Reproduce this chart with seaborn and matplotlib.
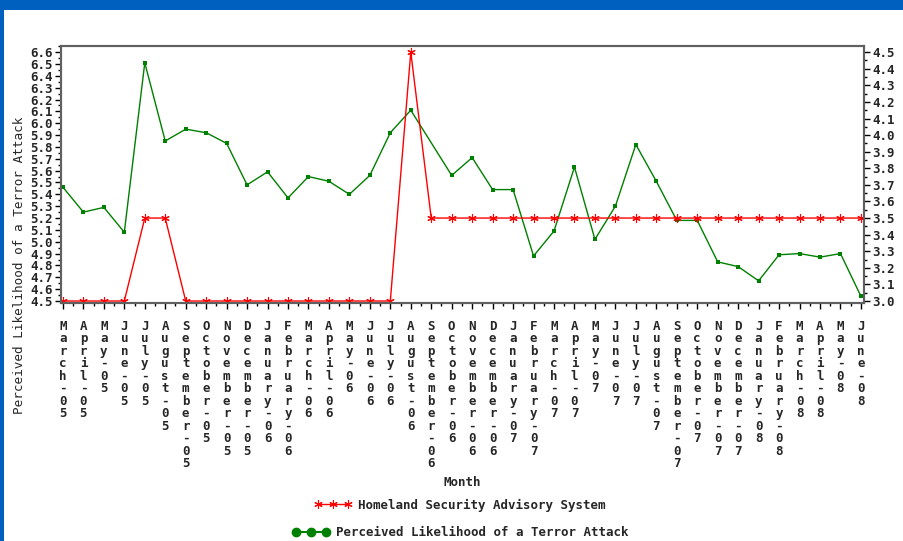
import matplotlib
matplotlib.use("Agg")
import matplotlib.pyplot as plt
import numpy as np
import pandas as pd
import seaborn as sns
from matplotlib.lines import Line2D
from matplotlib.patches import Rectangle
from matplotlib.ticker import MultipleLocator, FormatStrFormatter

months = [
    "March-05", "April-05", "May-05", "June-05", "July-05", "August-05",
    "September-05", "October-05", "November-05", "December-05",
    "January-06", "February-06", "March-06", "April-06", "May-06", "June-06",
    "July-06", "August-06", "September-06", "October-06", "November-06",
    "December-06", "January-07", "February-07", "March-07", "April-07",
    "May-07", "June-07", "July-07", "August-07", "September-07",
    "October-07", "November-07", "December-07", "January-08", "February-08",
    "March-08", "April-08", "May-08", "June-08",
]
likelihood = [5.46, 5.25, 5.29, 5.08, 6.51, 5.85, 5.95, 5.92, 5.83, 5.48,
              5.59, 5.37, 5.55, 5.51, 5.40, 5.56, 5.92, 6.11, np.nan, 5.56,
              5.71, 5.44, 5.44, 4.88, 5.09, 5.63, 5.02, 5.30, 5.82, 5.51,
              5.18, 5.18, 4.83, 4.79, 4.67, 4.89, 4.90, 4.87, 4.90, 4.54]
hsas = [3.0] * 4 + [3.5] * 2 + [3.0] * 11 + [4.5] + [3.5] * 22

GREEN = "#008000"
RED = "#ff0000"
BLUE = "#0060c0"
MONO = "DejaVu Sans Mono"

df = pd.DataFrame({"idx": range(len(months)), "Month": months,
                   "Likelihood": likelihood, "HSAS": hsas})

sns.set_style("ticks")
plt.rcParams["font.family"] = [MONO, "DejaVu Sans"]

fig = plt.figure(figsize=(9.04, 5.41), dpi=100)
fig.patch.set_facecolor("white")
# blue slide frame on top and left edge
fig.patches.append(Rectangle((0, 1 - 10 / 541), 1, 10 / 541, transform=fig.transFigure,
                             facecolor=BLUE, edgecolor="none"))
fig.patches.append(Rectangle((0, 0), 4 / 904, 1, transform=fig.transFigure,
                             facecolor=BLUE, edgecolor="none"))

ax = fig.add_axes([61.5 / 904, 1 - 303 / 541, (864 - 61.5) / 904, (303 - 45.5) / 541])
ax.set_facecolor("white")
sns.lineplot(data=df.dropna(), x="idx", y="Likelihood", ax=ax, color=GREEN,
             marker="s", markersize=3.5, markeredgewidth=0, linewidth=1)
ax2 = ax.twinx()
sns.lineplot(data=df, x="idx", y="HSAS", ax=ax2, color=RED,
             marker=(6, 2, 0), markersize=6, markeredgewidth=0.8,
             markeredgecolor=RED, linewidth=1)

ax.set_xlim(-0.07, 39.15)
ax.set_ylim(4.483, 6.656)
ax2.set_ylim(2.988, 4.540)

ax.yaxis.set_major_locator(MultipleLocator(0.1))
ax.yaxis.set_minor_locator(MultipleLocator(0.05))
ax.yaxis.set_major_formatter(FormatStrFormatter("%.1f"))
ax2.yaxis.set_major_locator(MultipleLocator(0.1))
ax2.yaxis.set_minor_locator(MultipleLocator(0.05))
ax2.yaxis.set_major_formatter(FormatStrFormatter("%.1f"))

ax.set_xticks(range(len(months)))
ax.set_xticks(np.arange(0.5, len(months) - 1, 1), minor=True)
ax.set_xticklabels(["\n".join(m) for m in months], fontsize=9, fontweight="bold",
                   va="top", linespacing=0.95, family=MONO)

for a in (ax, ax2):
    a.tick_params(which="major", length=4, width=1, color="black", pad=2)
    a.tick_params(which="minor", length=2, width=1, color="black")
    for lab in a.get_yticklabels():
        lab.set_fontsize(9)
        lab.set_fontweight("bold")
        lab.set_family(MONO)
    for s in a.spines.values():
        s.set_color("#606060")
        s.set_linewidth(1.5)
ax.tick_params(axis="x", which="major", pad=8)

ax.set_xlabel("")
ax.set_ylabel("")
ax2.set_ylabel("")

fig.text(20 / 904, 1 - 265 / 541, "Perceived Likelihood of a Terror Attack",
         rotation=90, ha="center", va="center", fontsize=9.1, family=MONO)
fig.text(462 / 904, 1 - 482 / 541, "Month", ha="center", va="center",
         fontsize=9, fontweight="bold", family=MONO)

prop = {"family": MONO, "size": 9, "weight": "bold"}
red_h = Line2D([], [], color=RED, lw=1, marker=(6, 2, 0), markersize=6,
               markeredgewidth=0.8, markeredgecolor=RED)
green_h = Line2D([], [], color=GREEN, lw=1.5, marker="o", markersize=6)
fig.legend([red_h], ["Homeland Security Advisory System"], loc="center",
           bbox_to_anchor=(460 / 904, 1 - 505 / 541), frameon=False,
           numpoints=3, handlelength=3.0, handletextpad=0.5, prop=prop)
fig.legend([green_h], ["Perceived Likelihood of a Terror Attack"], loc="center",
           bbox_to_anchor=(460 / 904, 1 - 533 / 541), frameon=False,
           numpoints=3, handlelength=3.0, handletextpad=0.5, prop=prop)

fig.savefig("out.png", dpi=100, facecolor=fig.get_facecolor())
